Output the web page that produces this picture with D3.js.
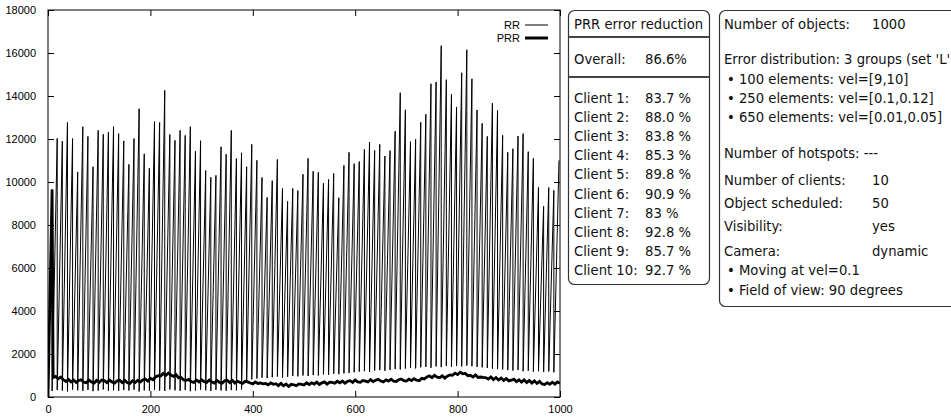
<!DOCTYPE html>
<html>
<head>
<meta charset="utf-8">
<script src="https://cdn.jsdelivr.net/npm/d3@7"></script>
<style>
  body { margin: 0; background: #fff; }
  svg { display: block; }
  .axis text { font-family: "Liberation Sans", Arial, sans-serif; font-size: 11px; fill: #000; }
  .axis path { display: none; }
  .axis line { stroke: #000; }
  .legend text { font-family: "Liberation Sans", Arial, sans-serif; font-size: 11px; }
  .panel text { font-family: "DejaVu Sans", sans-serif; font-size: 13.2px; fill: #111; }
</style>
</head>
<body>
<svg id="chart" width="951" height="417"></svg>
<script>
// scheduling period of the round robin (one tooth every 10 steps)
const period = 10;

// RR peak value of each tooth (100 teeth)
const rrPeaks = [
  9650, 12030, 11900, 12770, 12020, 10470, 12570, 12120, 10710, 12400,
  12220, 12320, 12580, 12250, 11910, 10820, 12020, 13410, 11310, 10640,
  12810, 12770, 14260, 12210, 11940, 12400, 12170, 12570, 11430, 11920,
  10530, 10220, 10310, 11640, 11290, 12400, 11090, 11360, 10710, 11750,
  11010, 10210, 9280, 10060, 11050, 9700, 9100, 9700, 9600, 10360,
  11100, 10500, 10450, 9940, 10120, 10400, 9270, 10775, 11380, 10850,
  10950, 11520, 11860, 11470, 11750, 11210, 11460, 12360, 14150, 13360,
  11875, 11985, 12775, 13150, 14570, 14650, 16340, 14760, 14080, 13490,
  15080, 16150, 14800, 13350, 12730, 12120, 13670, 13330, 12170, 11380,
  11550, 12140, 12250, 11410, 11100, 9750, 8870, 9740, 9610, 11010
];

// RR value right after each drop (start of the next tooth)
const rrLows = [
  280, 320, 300, 260, 340, 310, 290, 330, 270, 300,
  350, 290, 310, 280, 320, 300, 340, 260, 310, 290,
  330, 300, 280, 350, 310, 290, 320, 270, 300, 340,
  310, 280, 330, 300, 290, 320, 310, 350, 700, 820,
  860, 900, 880, 920, 950, 900, 940, 980, 960, 1000,
  980, 1020, 1000, 1050, 1030, 1080, 1060, 1100, 1120, 1150,
  1180, 1200, 1170, 1230, 1250, 1220, 1260, 1300, 1280, 1320,
  1350, 1330, 1380, 1400, 1360, 1420, 1390, 1440, 1400, 1450,
  1420, 1460, 1430, 1400, 1380, 1350, 1320, 1300, 1280, 1250,
  1230, 1260, 1200, 1220, 1180, 1200, 1160, 1190, 1150
];

// PRR: start of the run, then one value every 5 steps from step 10
const prrStartX = [0, 8];
const prrStartV = [0, 9650];
const prrFirstX = 10;
const prrStep = 5;
const prrValues = [
  900, 960, 850, 930, 800, 720, 820, 700, 790, 680, 770, 800, 690, 660, 790, 700, 650, 770, 680, 790,
  760, 670, 790, 700, 650, 750, 780, 670, 770, 660, 630, 750, 670, 770, 700, 790, 830, 740, 870, 800,
  930, 990, 980, 1100, 1000, 1110, 1020, 960, 1040, 890, 910, 790, 780, 820, 710, 680, 790, 700, 800, 710,
  680, 790, 700, 650, 770, 680, 640, 750, 780, 670, 770, 650, 740, 680, 630, 730, 700, 650, 610, 700,
  630, 650, 610, 630, 570, 660, 590, 620, 530, 630, 520, 600, 490, 590, 570, 530, 610, 590, 560, 660,
  580, 660, 600, 690, 580, 660, 700, 600, 690, 680, 640, 730, 660, 740, 640, 730, 760, 680, 790, 700,
  680, 770, 740, 700, 810, 720, 780, 820, 740, 700, 800, 740, 830, 740, 720, 800, 840, 760, 740, 830,
  760, 850, 780, 760, 870, 840, 930, 980, 900, 1010, 920, 900, 990, 880, 970, 1030, 1010, 1110, 1040, 1150,
  1080, 1100, 990, 1010, 930, 1030, 910, 930, 910, 900, 830, 930, 810, 900, 790, 880, 770, 860, 750, 780,
  830, 710, 800, 690, 790, 670, 770, 650, 750, 630, 730, 610, 580, 670, 590, 690, 600, 700, 640
];

const xTicks = [0, 200, 400, 600, 800, 1000];
const yTicks = [0, 2000, 4000, 6000, 8000, 10000, 12000, 14000, 16000, 18000];

const seriesNames = ["RR", "PRR"];

const overall = "86.6%";
const clientNames = ["Client 1:", "Client 2:", "Client 3:", "Client 4:", "Client 5:",
                     "Client 6:", "Client 7:", "Client 8:", "Client 9:", "Client 10:"];
const clientValues = ["83.7 %", "88.0 %", "83.8 %", "85.3 %", "89.8 %",
                      "90.9 %", "83 %", "92.8 %", "85.7 %", "92.7 %"];

let svg = d3.select("#chart");

let plot = {left: 48, right: 560, top: 10, bottom: 397};

let x = d3.scaleLinear().domain([0, 1000]).range([plot.left, plot.right]);
let y = d3.scaleLinear().domain([0, 18000]).range([plot.bottom, plot.top]);

// build the two series
let rr = [{x: 0, v: 0}];
rrPeaks.forEach(function(p, i){
    let px = period * (i + 1) - 2;
    rr.push({x: px, v: p});
    if (i < rrLows.length) rr.push({x: px, v: rrLows[i]});
});

let prr = prrStartX.map((d, i) => ({x: d, v: prrStartV[i]}));
prrValues.forEach(function(v, i){
    prr.push({x: prrFirstX + i * prrStep, v: v});
});

let line = d3.line().x(d => x(d.x)).y(d => y(d.v));

svg.append("clipPath").attr("id", "plotclip")
    .append("rect")
    .attr("x", plot.left).attr("y", plot.top)
    .attr("width", plot.right - plot.left).attr("height", plot.bottom - plot.top);

let g = svg.append("g").attr("clip-path", "url(#plotclip)");

g.append("path").datum(rr)
    .attr("d", line)
    .attr("fill", "none")
    .attr("stroke", "#000")
    .attr("stroke-width", 1);

g.append("path").datum(prr)
    .attr("d", line)
    .attr("fill", "none")
    .attr("stroke", "#000")
    .attr("stroke-width", 2.8)
    .attr("stroke-linejoin", "miter");

// axes, ticks pointing inward, mirrored on top and right
svg.append("g").attr("class", "axis")
    .attr("transform", "translate(" + plot.left + ",0)")
    .call(d3.axisLeft(y).tickValues(yTicks).tickSize(-6).tickPadding(12).tickFormat(d3.format("d")));

svg.append("g").attr("class", "axis")
    .attr("transform", "translate(0," + plot.bottom + ")")
    .call(d3.axisBottom(x).tickValues(xTicks).tickSize(-6).tickPadding(8).tickFormat(d3.format("d")));

svg.append("g").attr("class", "axis")
    .attr("transform", "translate(" + plot.right + ",0)")
    .call(d3.axisRight(y).tickValues(yTicks).tickSize(-6).tickFormat(""));

svg.append("g").attr("class", "axis")
    .attr("transform", "translate(0," + plot.top + ")")
    .call(d3.axisTop(x).tickValues(xTicks).tickSize(-6).tickFormat(""));

svg.append("rect")
    .attr("x", plot.left).attr("y", plot.top)
    .attr("width", plot.right - plot.left).attr("height", plot.bottom - plot.top)
    .attr("fill", "none").attr("stroke", "#000").attr("stroke-width", 1);

// legend
let legend = svg.append("g").attr("class", "legend");
seriesNames.forEach(function(name, i){
    let ly = 25 + i * 13;
    legend.append("text")
        .attr("x", 520).attr("y", ly + 4)
        .attr("text-anchor", "end")
        .text(name);
    legend.append("line")
        .attr("x1", 525).attr("x2", 548)
        .attr("y1", ly).attr("y2", ly)
        .attr("stroke", "#000")
        .attr("stroke-width", i == 0 ? 1 : 3);
});

// left panel: error reduction
let p1 = svg.append("g").attr("class", "panel");
let clientTop = 103, clientGap = 19.1;

p1.append("rect")
    .attr("x", 568.5).attr("y", 10.5)
    .attr("width", 141).attr("height", 274)
    .attr("rx", 6)
    .attr("fill", "none").attr("stroke", "#333").attr("stroke-width", 1.2);

[37, 77].forEach(function(ly){
    p1.append("line")
        .attr("x1", 568.5).attr("x2", 709.5)
        .attr("y1", ly).attr("y2", ly)
        .attr("stroke", "#444").attr("stroke-width", 2);
});

p1.append("text").attr("x", 574).attr("y", 29).text("PRR error reduction");
p1.append("text").attr("x", 574).attr("y", 64).text("Overall:");
p1.append("text").attr("x", 645).attr("y", 64).text(overall);

clientNames.forEach(function(c, i){
    p1.append("text").attr("x", 574).attr("y", clientTop + i * clientGap).text(c);
    p1.append("text").attr("x", 645).attr("y", clientTop + i * clientGap).text(clientValues[i]);
});

// right panel: settings of the run
let p2 = svg.append("g").attr("class", "panel");
p2.append("rect")
    .attr("x", 719.5).attr("y", 10.5)
    .attr("width", 260).attr("height", 296)
    .attr("rx", 6)
    .attr("fill", "none").attr("stroke", "#333").attr("stroke-width", 1.2);

let rows = [
    {label: "Number of objects:", value: "1000", y: 29},
    {label: "Error distribution: 3 groups (set 'L')", y: 64},
    {label: "• 100 elements: vel=[9,10]", y: 84, indent: true},
    {label: "• 250 elements: vel=[0.1,0.12]", y: 103, indent: true},
    {label: "• 650 elements: vel=[0.01,0.05]", y: 122, indent: true},
    {label: "Number of hotspots: ---", y: 158},
    {label: "Number of clients:", value: "10", y: 185},
    {label: "Object scheduled:", value: "50", y: 208},
    {label: "Visibility:", value: "yes", y: 231},
    {label: "Camera:", value: "dynamic", y: 256},
    {label: "• Moving at vel=0.1", y: 275, indent: true},
    {label: "• Field of view: 90 degrees", y: 295, indent: true}
];

rows.forEach(function(r){
    p2.append("text")
        .attr("x", r.indent ? 727 : 724)
        .attr("y", r.y)
        .text(r.label);
    if (r.value) {
        p2.append("text").attr("x", 872).attr("y", r.y).text(r.value);
    }
});
</script>
</body>
</html>
